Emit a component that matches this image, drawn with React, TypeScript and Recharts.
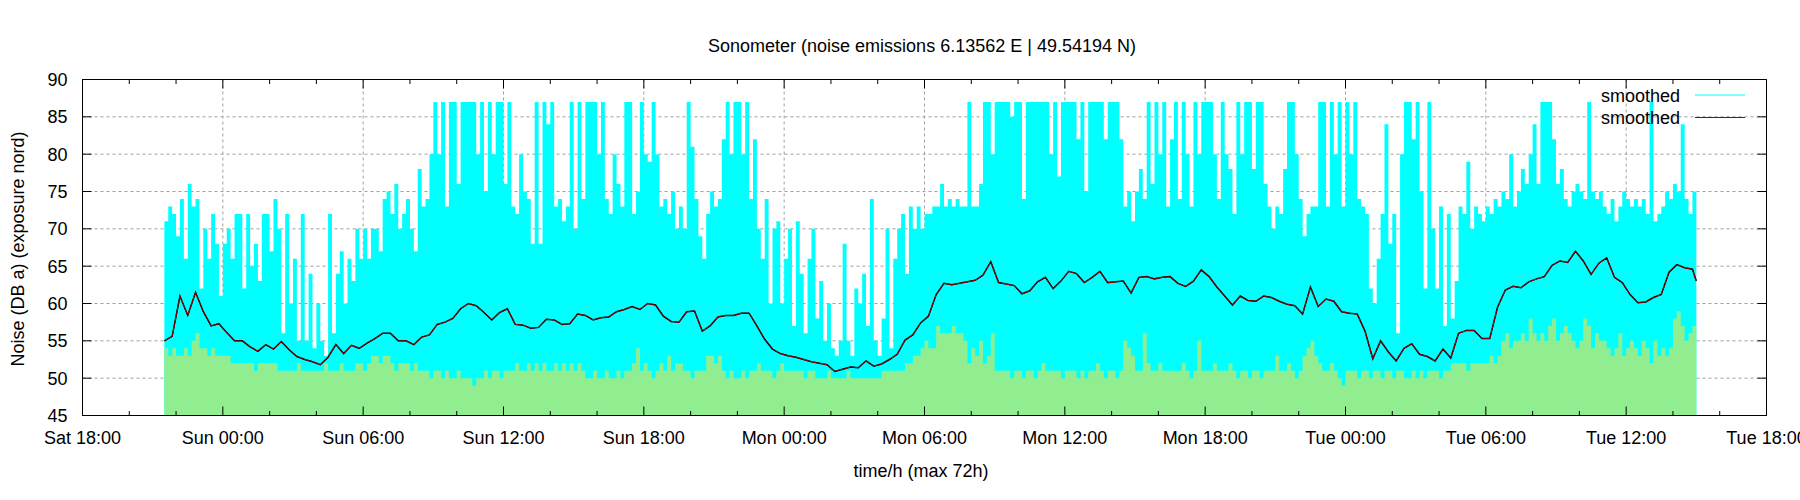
import React from 'react';
import { ComposedChart, Area, Line, XAxis, YAxis, CartesianGrid } from 'recharts';

const FONT = '"Liberation Sans", Arial, Helvetica, sans-serif';

const TITLE = 'Sonometer (noise emissions 6.13562 E | 49.54194 N)';
const X_LABEL = 'time/h (max 72h)';
const Y_LABEL = 'Noise (DB a) (exposure nord)';
const LEGEND_LABELS = ['smoothed', 'smoothed'];

// hours since Sat 18:00
const X_TICKS = [0, 2, 4, 6, 8, 10, 12, 14, 16, 18, 20, 22, 24, 26, 28, 30, 32, 34, 36, 38, 40, 42, 44, 46, 48, 50, 52, 54, 56, 58, 60, 62, 64, 66, 68, 70, 72];
const X_MAJOR = [0, 6, 12, 18, 24, 30, 36, 42, 48, 54, 60, 66, 72];
const X_TICK_LABELS = ['Sat 18:00', 'Sun 00:00', 'Sun 06:00', 'Sun 12:00', 'Sun 18:00', 'Mon 00:00', 'Mon 06:00', 'Mon 12:00', 'Mon 18:00', 'Tue 00:00', 'Tue 06:00', 'Tue 12:00', 'Tue 18:00'];
const Y_TICKS = [45, 50, 55, 60, 65, 70, 75, 80, 85, 90];

const START_H = 3.5; // Sat 21:30
const BIN_H = 1 / 6; // 10 min
const SMOOTH_STEP_H = 1 / 3; // 20 min
const END_H = 69; // Tue 15:00

// cyan impulses (dB a), one per 10 min
const levelMax = [
  71, 73, 72, 69, 74, 66, 76, 73, 74,
  62, 70, 66, 72, 68, 61,
  68, 70, 66,
  72, 72, 62, 72, 65,
  68, 63, 72, 72, 67, 74,
  70, 56, 72, 60, 66, 55, 72, 55, 64, 54, 60, 55, 53, 72, 56,
  64, 67, 60, 66, 63, 70, 66, 70,
  66, 70, 70, 67, 74, 75, 72, 76, 70,
  72, 74, 70, 67, 78, 73, 74, 80,
  87, 80, 87, 73, 87, 87, 76, 87, 87, 87, 87, 80,
  87, 75, 87, 80, 87, 87, 76, 87, 73, 72, 80, 75,
  74, 68, 87, 68, 87, 84, 87, 73, 74,
  71, 73, 87, 70, 87, 74, 87, 87, 87, 80, 87,
  74, 72, 80, 76, 73, 87, 87, 72, 75, 87, 80,
  79, 87, 80, 73, 74, 72, 75, 70, 73, 70,
  87, 81, 74, 69, 66, 72, 75, 73, 74,
  82, 87, 80, 87, 87, 80, 87, 74, 82, 70,
  66, 74, 60, 70, 71, 60, 66, 70, 57, 71,
  64, 56, 66, 70, 58, 63, 55, 60, 54, 53,
  55, 68, 55, 53, 62, 60, 64, 57, 74, 55, 53,
  58, 70, 54, 66, 70, 72, 64, 73, 70, 73,
  70, 72, 72, 73, 73, 76, 73, 74, 73, 74,
  73, 73, 87, 73, 73, 76, 87, 87, 80, 87,
  87, 87, 87, 85, 87, 87, 74, 87, 87, 87, 87,
  87, 87, 80, 87, 77, 87, 87, 87, 87, 82,
  87, 75, 87, 87, 87, 87, 82, 87, 87, 87,
  82, 73, 75, 71, 75, 78, 74, 87, 76, 87,
  80, 87, 73, 82, 87, 74, 87, 80, 73, 87, 80,
  87, 87, 87, 80, 74, 87, 80, 78, 72, 87,
  80, 87, 87, 78, 87, 87, 76, 73, 70, 73,
  72, 78, 87, 87, 80, 74, 69, 72, 73, 73,
  87, 87, 73, 87, 80, 87, 73, 87, 80,
  87, 74, 73, 72, 62, 60, 66, 72, 84, 68, 72,
  56, 80, 87, 87, 82, 87, 75, 62, 87, 70, 62, 73, 57, 72, 58,
  63, 73, 72, 79, 70, 73, 72, 71, 73, 72, 74,
  73, 75, 74, 80, 73, 75, 78, 76, 80, 84, 76,
  87, 87, 87, 82, 76, 78, 74, 73, 75, 76, 75, 74,
  87, 75, 74, 75, 73, 72, 74, 71, 73, 75, 74, 73,
  74, 73, 74, 72, 87, 71, 72, 73, 75, 74, 76,
  75, 84, 74, 72, 75,
];

// green impulses (dB a), one per 10 min
const levelMin = [
  54, 53, 54, 53, 53,
  54, 53, 55, 56,
  54, 54, 53, 54, 53,
  53, 53, 53, 52,
  52, 52, 52, 52, 52, 51, 52, 52, 52, 52, 52,
  51, 51, 51, 51, 51, 52, 51, 51, 51, 51, 51, 51, 52, 51, 51, 51, 52, 51, 51, 51, 52, 52, 51,
  52, 53, 53, 52, 53, 53, 52, 51, 52,
  52, 52, 51, 52, 51, 51,
  51, 50, 51, 51, 50, 51, 50, 50, 51,
  50, 50, 50, 49, 50, 50, 51, 50, 51,
  51, 50, 51, 51, 51, 52, 51, 51,
  52, 51, 52, 51, 52, 51, 51, 52, 51,
  52, 51, 52, 51, 52, 51, 50,
  50, 51, 50, 50, 51, 50, 50, 51, 50, 51,
  51, 52, 54, 51, 52, 51, 50, 51, 52,
  51, 53, 51, 52, 52, 51, 51, 50, 51, 51,
  51, 53, 53, 52, 53,
  51, 50, 51, 50, 50, 51, 50, 51,
  51, 52, 51, 51, 51, 50, 51, 52, 51, 51,
  51, 51, 51, 50, 51, 51, 50, 50, 50, 51,
  50, 50, 50, 50, 51, 50, 50, 50, 50, 50, 50, 50, 50,
  51, 51, 51, 51, 51, 51, 52,
  52, 53, 53, 54, 55, 54,
  54, 57, 56, 56, 56, 57, 56, 56, 55,
  52, 54, 53, 55, 52, 53, 56, 51,
  51, 51, 51, 50, 51, 51, 50, 51, 51, 50, 51,
  52, 51, 51, 51, 51, 50, 51, 51, 51, 50,
  51, 50, 51, 51, 52, 51, 50, 51, 51, 50, 51,
  55, 54, 53, 51, 51, 56,
  52, 51, 51, 52, 51, 51, 51, 51, 51, 52, 51, 50, 51, 55,
  51, 51, 51, 52, 51, 51, 51, 52, 51, 50,
  51, 51, 50, 51, 51, 50, 51, 51, 51, 53,
  51, 51, 52, 51, 50, 51, 53, 54, 55, 53,
  52, 51, 51, 52, 51, 50, 49, 51, 51,
  51, 50, 51, 51, 50, 51, 51, 50, 51, 51, 50,
  51, 51, 50, 50, 51, 50, 51, 50, 51, 51, 51, 50, 51, 51, 52,
  52, 52, 52, 51, 52, 52, 52, 52, 52, 53, 52,
  53, 55, 56, 54, 55, 55, 56, 55, 58, 56, 55,
  56, 55, 57, 58, 55, 56, 57, 56, 55, 54, 55, 58,
  57, 54, 56, 55, 55, 54, 53, 54, 56, 53, 54, 55,
  54, 53, 55, 54, 52, 55, 53, 54, 53, 54, 58,
  59, 57, 55, 56, 57,
];

// smoothed curve (dB a), one per 20 min
const smoothed = [
  55.0, 55.6, 61.0, 58.4, 61.5, 58.9, 57.0, 57.3, 56.1, 55.0, 55.0,
  54.2, 53.6, 54.5, 53.9, 54.9, 53.8, 52.9, 52.5, 52.2, 51.8,
  52.8, 54.5, 53.3, 54.4, 54.0, 54.7, 55.3, 56.0, 56.0, 55.0,
  55.0, 54.5, 55.5, 55.8, 57.2, 57.5, 58.0, 59.3, 60.0, 59.7,
  58.8, 57.8, 58.8, 59.3, 57.2, 57.1, 56.7, 56.8, 57.9, 57.8,
  57.2, 57.3, 58.6, 58.4, 57.8, 58.1, 58.2, 58.9, 59.2, 59.6,
  59.2, 60.0, 59.8, 58.3, 57.6, 57.5, 58.9, 59.0, 56.3, 57.0, 58.2,
  58.4, 58.4, 58.7, 58.7, 57.0, 55.2, 53.9, 53.3, 53.0, 52.8,
  52.5, 52.2, 52.0, 51.8, 50.9, 51.2, 51.5, 51.4, 52.3, 51.6, 51.9,
  52.5, 53.2, 55.1, 55.8, 57.4, 58.3, 61.2, 62.7, 62.5, 62.7,
  62.9, 63.1, 63.8, 65.6, 62.8, 62.6, 62.4, 61.3, 61.7, 62.9,
  63.5, 62.0, 63.0, 64.3, 64.0, 62.8, 63.5, 64.3, 62.8, 62.9,
  63.0, 61.4, 63.5, 63.6, 63.3, 63.5, 63.6, 62.7, 62.3, 63.0, 64.5,
  63.6, 62.2, 61.0, 59.8, 61.0, 60.4, 60.3, 61.0, 60.8, 60.3,
  59.9, 59.7, 58.6, 62.2, 59.6, 60.6, 60.3, 58.9, 58.7, 58.6,
  56.3, 52.6, 55.0, 53.5, 52.3, 54.0, 54.6, 53.2, 52.9, 52.3,
  53.9, 52.7, 56.0, 56.4, 56.4, 55.3, 55.3, 59.5, 61.8, 62.3,
  62.1, 62.9, 63.3, 63.6, 65.1, 65.7, 65.5, 67.0, 65.7, 63.9,
  65.4, 66.1, 63.5, 62.8, 61.2, 60.1, 60.2, 60.8, 61.2, 64.2,
  65.2, 64.8, 64.6,
];
const SMOOTH_LAST = 63.0;

const CYAN = '#00ffff';
const GREEN = '#90ee90';
const DARK_RED = '#a00000';

const binSeries = (vals: number[]) => [
  ...vals.map((v, i) => ({ t: START_H + i * BIN_H, v })),
  { t: END_H, v: vals[vals.length - 1] },
];
const maxData = binSeries(levelMax);
const minData = binSeries(levelMin);
const smoothData = [
  ...smoothed.map((v, k) => ({ t: START_H + k * SMOOTH_STEP_H, v })),
  { t: END_H, v: SMOOTH_LAST },
];

const TICK_MAJOR = 9;
const TICK_MINOR = 4.5;
const X_MARGIN = 16;
const Y_MARGIN = 15;
const isMajor = (v: number) => v % 6 === 0;

const textStyle = { fontFamily: FONT, fontSize: 18, fill: '#000' };

function BottomTick(p: any) {
  const { x, y, payload } = p;
  const v = payload.value;
  const ay = y - X_MARGIN;
  return (
    <g>
      <line x1={x} x2={x} y1={ay} y2={ay - (isMajor(v) ? TICK_MAJOR : TICK_MINOR)} stroke="#000" strokeWidth={1} />
      {isMajor(v) ? (
        <text x={x} y={y} dy="0.71em" textAnchor="middle" style={textStyle}>
          {X_TICK_LABELS[v / 6]}
        </text>
      ) : null}
    </g>
  );
}

function TopTick(p: any) {
  const { x, y, payload } = p;
  const v = payload.value;
  return <line x1={x} x2={x} y1={y} y2={y + (isMajor(v) ? TICK_MAJOR : TICK_MINOR)} stroke="#000" strokeWidth={1} />;
}

function LeftTick(p: any) {
  const { x, y, payload } = p;
  const ax = x + Y_MARGIN;
  return (
    <g>
      <line x1={ax} x2={ax + TICK_MAJOR} y1={y} y2={y} stroke="#000" strokeWidth={1} />
      <text x={x} y={y} dy="0.355em" textAnchor="end" style={textStyle}>
        {payload.value}
      </text>
    </g>
  );
}

function RightTick(p: any) {
  const { x, y } = p;
  return <line x1={x} x2={x - TICK_MAJOR} y1={y} y2={y} stroke="#000" strokeWidth={1} />;
}

const axisLine = { stroke: '#000', strokeWidth: 1 };

export default function App() {
  return (
    <div style={{ position: 'absolute', left: 0, top: 0, width: 1800, height: 500, background: '#fff' }}>
      <ComposedChart width={1800} height={500} margin={{ top: 0, right: 0, bottom: 0, left: 0 }}>
        <CartesianGrid
          xAxisId="b"
          yAxisId="l"
          stroke="#a0a0a0"
          strokeDasharray="3 3"
          verticalValues={X_MAJOR}
          horizontalValues={Y_TICKS}
        />
        <Area
          data={maxData}
          dataKey="v"
          xAxisId="b"
          yAxisId="l"
          type="stepAfter"
          stroke="none"
          fill={CYAN}
          fillOpacity={1}
          baseValue={45}
          dot={false}
          activeDot={false}
          isAnimationActive={false}
        />
        <Area
          data={minData}
          dataKey="v"
          xAxisId="b"
          yAxisId="l"
          type="stepAfter"
          stroke="none"
          fill={GREEN}
          fillOpacity={1}
          baseValue={45}
          dot={false}
          activeDot={false}
          isAnimationActive={false}
        />
        <Line
          data={smoothData}
          dataKey="v"
          name="smoothed-outline"
          xAxisId="b"
          yAxisId="l"
          type="linear"
          stroke="#000"
          strokeWidth={1.5}
          dot={false}
          activeDot={false}
          isAnimationActive={false}
        />
        <Line
          data={smoothData}
          dataKey="v"
          name="smoothed"
          xAxisId="b"
          yAxisId="l"
          type="linear"
          stroke={DARK_RED}
          strokeWidth={0.9}
          dot={false}
          activeDot={false}
          isAnimationActive={false}
        />
        <XAxis
          xAxisId="b"
          orientation="bottom"
          type="number"
          dataKey="t"
          domain={[0, 72]}
          allowDataOverflow
          ticks={X_TICKS}
          interval={0}
          height={84.5}
          tickSize={0}
          tickMargin={X_MARGIN}
          tickLine={false}
          axisLine={axisLine}
          tick={BottomTick}
        />
        <XAxis
          xAxisId="t"
          orientation="top"
          type="number"
          dataKey="t"
          domain={[0, 72]}
          allowDataOverflow
          ticks={X_TICKS}
          interval={0}
          height={79.5}
          tickSize={0}
          tickMargin={0}
          tickLine={false}
          axisLine={axisLine}
          tick={TopTick}
        />
        <YAxis
          yAxisId="l"
          orientation="left"
          type="number"
          domain={[45, 90]}
          allowDataOverflow
          ticks={Y_TICKS}
          interval={0}
          width={82.5}
          tickSize={0}
          tickMargin={Y_MARGIN}
          tickLine={false}
          axisLine={axisLine}
          tick={LeftTick}
        />
        <YAxis
          yAxisId="r"
          orientation="right"
          type="number"
          domain={[45, 90]}
          allowDataOverflow
          ticks={Y_TICKS}
          interval={0}
          width={33.5}
          tickSize={0}
          tickMargin={0}
          tickLine={false}
          axisLine={axisLine}
          tick={RightTick}
        />
      </ComposedChart>
      <svg
        width={1800}
        height={500}
        style={{ position: 'absolute', left: 0, top: 0, pointerEvents: 'none' }}
      >
        <text x={922} y={52} textAnchor="middle" style={textStyle}>{TITLE}</text>
        <text x={921} y={477} textAnchor="middle" style={textStyle}>{X_LABEL}</text>
        <text x={23.5} y={249} textAnchor="middle" transform="rotate(-90 23.5 249)" style={textStyle}>{Y_LABEL}</text>
        <text x={1680} y={101.5} textAnchor="end" style={textStyle}>{LEGEND_LABELS[0]}</text>
        <line x1={1695} x2={1745} y1={95} y2={95} stroke={CYAN} strokeWidth={1} />
        <text x={1680} y={123.5} textAnchor="end" style={textStyle}>{LEGEND_LABELS[1]}</text>
        <line x1={1695} x2={1745} y1={117.5} y2={117.5} stroke={DARK_RED} strokeWidth={1} />
      </svg>
    </div>
  );
}
